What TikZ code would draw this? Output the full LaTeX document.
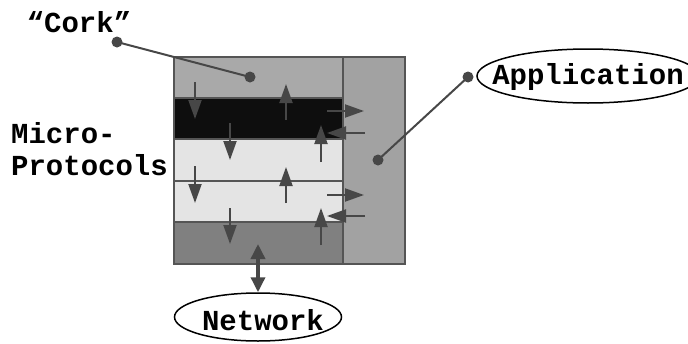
\documentclass[tikz,border=0pt]{standalone}
\usepackage{fontspec}
\setmonofont{Liberation Mono}
\usetikzlibrary{arrows.meta,shapes.geometric}
\definecolor{corkc}{HTML}{A9A9A9}
\definecolor{blackc}{HTML}{0E0E0E}
\definecolor{lightc}{HTML}{E4E4E4}
\definecolor{darkc}{HTML}{808080}
\definecolor{appc}{HTML}{A2A2A2}
\definecolor{edgec}{HTML}{555555}
\definecolor{arrc}{HTML}{474747}
\tikzset{
  lbl/.style={font=\ttfamily\bfseries\fontsize{29}{31}\selectfont, inner sep=0pt},
  layer/.style={draw=edgec, line width=1.5pt},
  flow/.style={draw=arrc, line width=2pt, -{Triangle[length=19pt,width=13pt]}},
  callout/.style={draw=arrc, line width=2pt},
  dotc/.style={circle, fill=arrc, inner sep=0pt, minimum size=11pt},
  oval/.style={ellipse, draw=black, line width=1.5pt, inner sep=0pt},
}
\begin{document}
\begin{tikzpicture}[x=1pt,y=-1pt]
\useasboundingbox (0,0) rectangle (688,343);
% layers
\path[layer, fill=corkc] (174,57) rectangle (343,98);
\path[layer, fill=blackc] (174,98) rectangle (343,139);
\path[layer, fill=lightc] (174,139) rectangle (343,181);
\path[layer, fill=lightc] (174,181) rectangle (343,222);
\path[layer, fill=darkc] (174,222) rectangle (343,264);
\path[layer, fill=appc] (343,57) rectangle (405,264);
% internal arrows
\coordinate (a1s) at (195,82); \coordinate (a1e) at (195,119);
\coordinate (a2s) at (286,120); \coordinate (a2e) at (286,84);
\coordinate (a3s) at (327,111); \coordinate (a3e) at (364,111);
\coordinate (a4s) at (365,133); \coordinate (a4e) at (327,133);
\coordinate (a5s) at (230,123); \coordinate (a5e) at (230,160);
\coordinate (a6s) at (321,162); \coordinate (a6e) at (321,125);
\coordinate (b1s) at (195,166); \coordinate (b1e) at (195,203);
\coordinate (b2s) at (286,203); \coordinate (b2e) at (286,167);
\coordinate (b3s) at (327,195); \coordinate (b3e) at (364,195);
\coordinate (b4s) at (365,216); \coordinate (b4e) at (327,216);
\coordinate (b5s) at (230,208); \coordinate (b5e) at (230,244);
\coordinate (b6s) at (321,245); \coordinate (b6e) at (321,208);
\foreach \p in {a1,a2,a3,a4,a5,a6,b1,b2,b3,b4,b5,b6}
  \draw[flow] (\p s) -- (\p e);
% labels
\node[lbl] (cork) at (79,22) {“Cork”};
\node[lbl, anchor=west] (micro) at (11,133) {Micro-};
\node[lbl, anchor=west] (proto) at (11,165) {Protocols};
\node[oval, minimum width=222pt, minimum height=54pt] (appov) at (588,76) {};
\node[lbl] (app) at (588,77) {Application};
\node[oval, minimum width=167pt, minimum height=48pt] (net) at (258,317) {};
\node[lbl] (nettxt) at (263,320) {Network};
% callouts
\node[dotc] (cd1) at (117,42) {};
\node[dotc] (cd2) at (250,77) {};
\draw[callout] (cd1.center) -- (cd2.center);
\node[dotc] (ad1) at (468,77) {};
\node[dotc] (ad2) at (378,160) {};
\draw[callout] (ad1.center) -- (ad2.center);
% network double arrow
\coordinate (n1) at (258,244);
\draw[draw=arrc, line width=3.5pt, {Triangle[length=15pt,width=14pt]}-{Triangle[length=15pt,width=14pt]}] (n1) -- (net.north);
\end{tikzpicture}
\end{document}
